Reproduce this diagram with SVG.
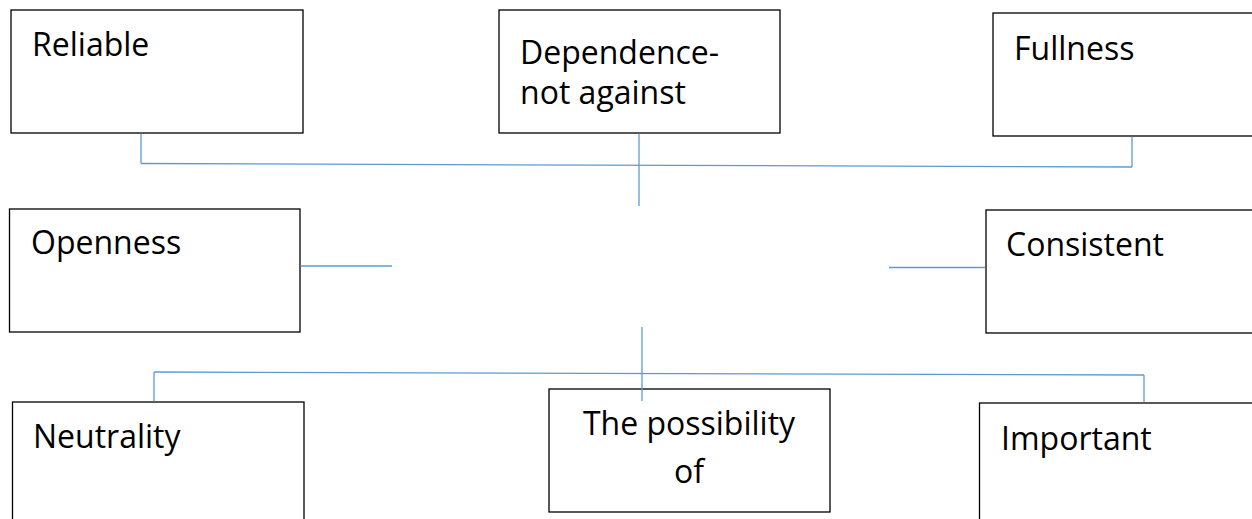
<svg xmlns="http://www.w3.org/2000/svg" width="1252" height="519" viewBox="0 0 1252 519">
<style>
.box{fill:#fff;stroke:#000;stroke-width:1.3}
.t{font-family:"Open Sans","Liberation Sans",sans-serif;font-size:32px;fill:#000}
.c{stroke:#5B9BD5;stroke-width:1.3;fill:none}
</style>
<rect width="1252" height="519" fill="#fff"/>
<g id="reliable">
<rect class="box" x="11" y="10" width="292" height="123"/>
<text class="t" x="32" y="56">Reliable</text>
</g>
<g id="dependence">
<rect class="box" x="499" y="10" width="281" height="123"/>
<text class="t" x="520" y="64">Dependence-</text>
<text class="t" x="520" y="104">not against</text>
</g>
<g id="fullness">
<rect class="box" x="993" y="13" width="270" height="123"/>
<text class="t" x="1014" y="60">Fullness</text>
</g>
<g id="openness">
<rect class="box" x="9.5" y="209" width="290.5" height="123"/>
<text class="t" x="31" y="254">Openness</text>
</g>
<g id="consistent">
<rect class="box" x="986" y="210" width="280" height="123"/>
<text class="t" x="1006" y="256">Consistent</text>
</g>
<g id="neutrality">
<rect class="box" x="12.5" y="402" width="291.5" height="130"/>
<text class="t" x="33" y="448">Neutrality</text>
</g>
<g id="possibility">
<rect class="box" x="549" y="389" width="281" height="123"/>
<text class="t" x="689" y="435" text-anchor="middle">The possibility</text>
<text class="t" x="689" y="483" text-anchor="middle">of</text>
</g>
<g id="important">
<rect class="box" x="979.5" y="403" width="290" height="130"/>
<text class="t" x="1001" y="450">Important</text>
</g>
<g id="connectors">
<line class="c" x1="141" y1="133.7" x2="141" y2="163.5"/>
<line class="c" x1="141" y1="163.5" x2="1132" y2="167"/>
<line class="c" x1="1132" y1="136.7" x2="1132" y2="167"/>
<line class="c" x1="639" y1="133.7" x2="639" y2="206"/>
<line class="c" x1="300.7" y1="266" x2="392" y2="266"/>
<line class="c" x1="889" y1="267.5" x2="985.3" y2="267.5"/>
<line class="c" x1="154" y1="372" x2="1144" y2="375"/>
<line class="c" x1="154" y1="372" x2="154" y2="401.3"/>
<line class="c" x1="1144" y1="375" x2="1144" y2="402.3"/>
<line class="c" x1="642" y1="327" x2="642" y2="401"/>
</g>
</svg>
